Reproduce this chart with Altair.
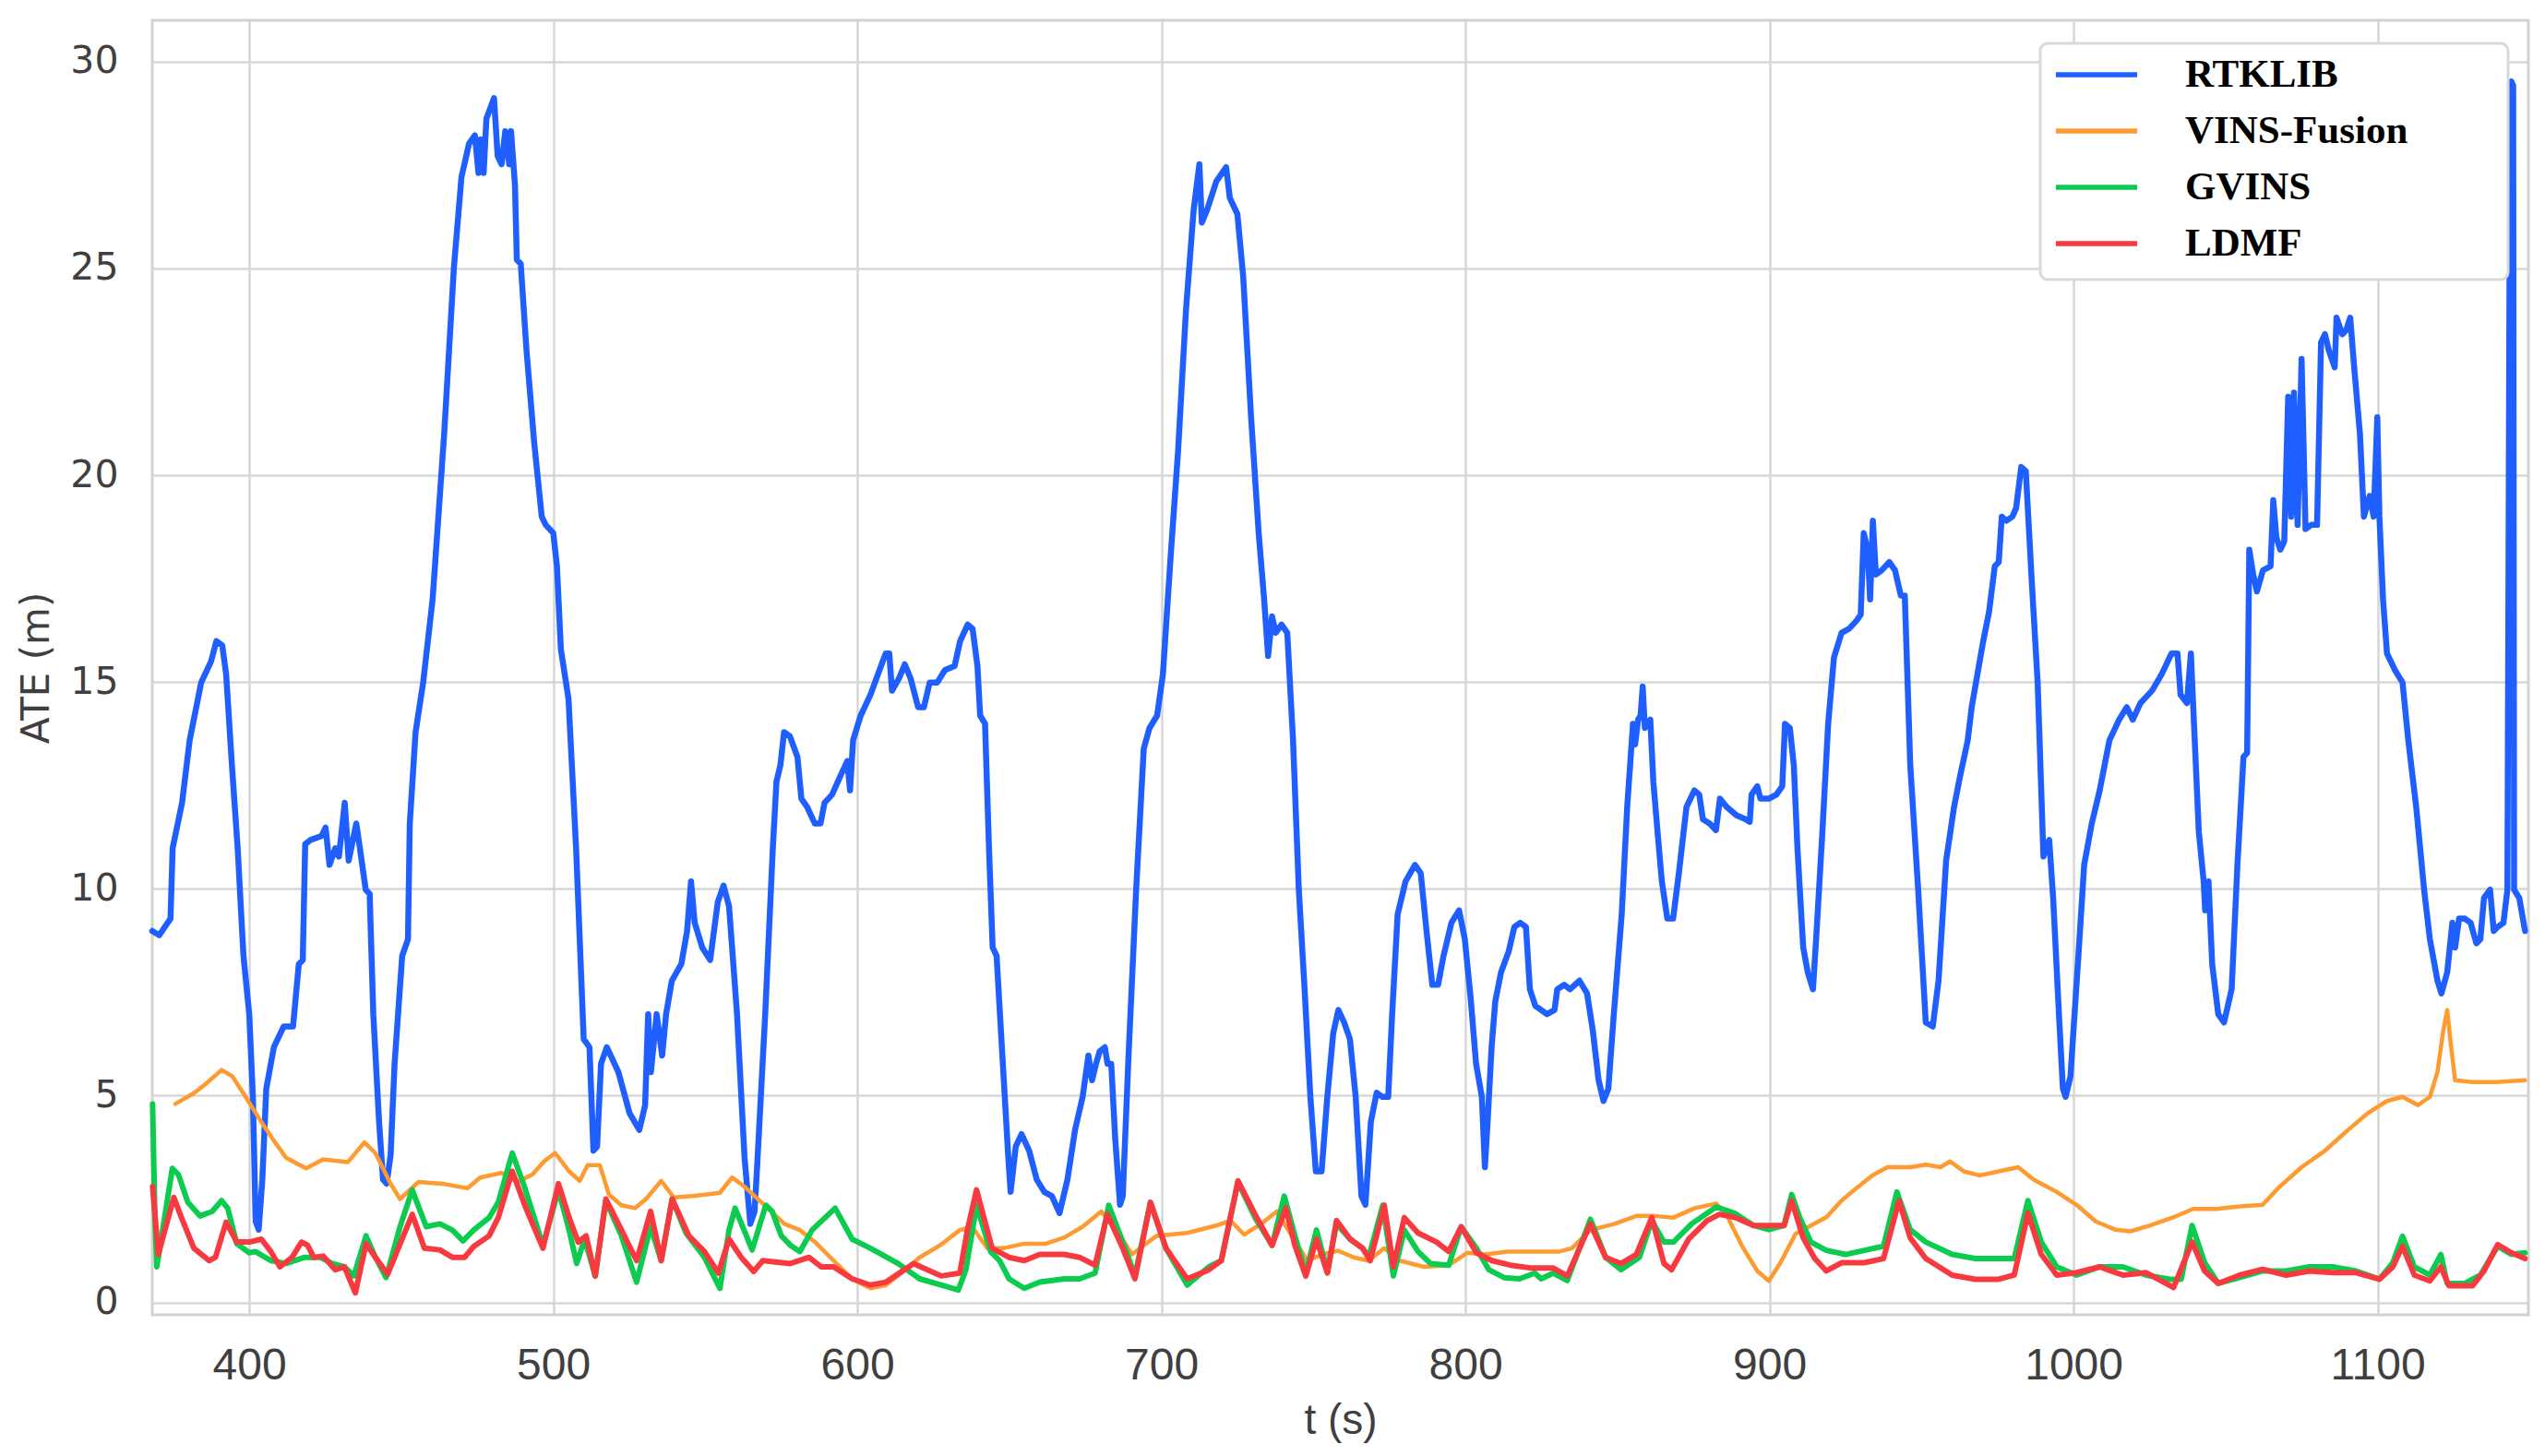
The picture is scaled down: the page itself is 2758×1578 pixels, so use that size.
import altair as alt
import pandas as pd

# ---------------- data ----------------
rtk_t = [368.1, 370.4, 374.1, 374.8, 377.9, 380.4, 384.2, 387.4, 389.2, 391.1, 392.4, 394.3, 396.2, 398.1,
         400.0, 401.2, 402.1, 403.1, 404.3, 405.6, 408.1, 411.3, 414.4, 416.3, 417.6, 418.4, 420.1, 423.8,
         425.1, 426.4, 428.3, 429.5, 431.4, 432.7, 435.2, 436.4, 438.3, 439.6, 440.8, 442.7, 444.0, 445.2,
         446.5, 447.8, 450.3, 452.2, 452.8, 454.7, 457.2, 460.3, 464.1, 467.3, 469.8, 472.3, 474.2, 475.4,
         476.1, 477.1, 478.0, 480.5, 481.7, 483.0, 484.2, 485.5, 486.1, 487.4, 488.0, 489.3, 491.2, 493.7,
         496.2, 497.5, 500.0, 501.2, 502.5, 505.0, 507.5, 510.0, 511.9, 513.2, 514.4, 515.7, 517.6, 521.4,
         525.1, 528.3, 530.2, 531.2, 532.1, 534.0, 535.8, 537.1, 539.0, 542.1, 544.0, 545.3, 546.5, 549.0,
         551.6, 554.1, 556.0, 557.8, 560.4, 562.9, 564.8, 566.2, 567.1, 569.7, 572.2, 573.4, 574.7, 575.9,
         577.8, 580.3, 581.6, 583.5, 586.0, 587.9, 589.2, 591.7, 594.8, 596.7, 597.6, 598.6, 601.1, 604.3,
         606.8, 609.3, 610.5, 611.4, 613.7, 615.6, 617.5, 620.0, 621.9, 623.8, 626.3, 628.8, 632.0, 633.8,
         636.3, 637.9, 639.5, 640.4, 642.0, 643.3, 644.5, 645.8, 647.7, 649.6, 650.4, 652.1, 654.0, 656.5,
         659.0, 661.5, 664.0, 666.5, 669.1, 671.6, 674.1, 676.0, 677.2, 678.5, 679.7, 681.4, 682.3, 683.5,
         684.8, 686.4, 687.3, 689.2, 691.7, 694.2, 696.1, 698.6, 700.5, 703.0, 705.5, 708.1, 710.6, 712.5,
         713.3, 715.0, 718.1, 721.3, 722.5, 725.0, 726.9, 729.5, 732.0, 733.8, 735.1, 736.4, 737.6, 739.5,
         741.4, 743.3, 745.2, 747.1, 749.0, 750.8, 752.7, 754.6, 756.5, 758.2, 760.1, 762.0, 763.9, 765.8,
         767.1, 768.9, 770.8, 772.7, 774.6, 775.9, 777.7, 780.3, 783.4, 785.3, 787.2, 789.1, 791.0, 792.8,
         795.4, 797.9, 799.8, 801.7, 803.5, 805.4, 806.4, 807.3, 808.6, 809.8, 811.7, 814.2, 816.1, 818.0,
         819.9, 821.2, 823.0, 824.9, 826.8, 829.3, 830.2, 832.5, 834.4, 837.5, 840.0, 841.9, 843.8, 845.4,
         847.0, 848.8, 851.4, 853.2, 855.1, 855.8, 856.8, 857.6, 858.3, 859.0, 860.8, 861.8, 863.3, 864.6,
         866.4, 868.3, 870.2, 872.7, 875.3, 876.9, 878.1, 880.3, 882.4, 883.7, 885.9, 889.1, 892.2, 893.5,
         894.1, 896.0, 897.0, 899.8, 902.3, 904.2, 905.1, 906.7, 908.0, 909.2, 911.1, 912.6, 914.3, 915.5,
         917.4, 919.3, 921.2, 923.7, 926.2, 928.7, 930.0, 931.0, 932.3, 933.1, 934.0, 935.0, 936.9, 939.4,
         941.3, 943.2, 944.5, 946.3, 948.9, 951.4, 953.7, 955.6, 958.1, 960.7, 962.6, 965.2, 966.5, 968.4,
         970.3, 972.2, 974.1, 975.4, 976.4, 977.9, 979.9, 981.1, 982.8, 984.3, 986.3, 988.2, 990.1, 992.0,
         993.3, 995.2, 996.5, 997.4, 999.0, 1001.6, 1003.5, 1006.0, 1008.6, 1011.8, 1015.0, 1017.5, 1019.5,
         1022.0, 1025.8, 1029.0, 1032.2, 1034.2, 1035.2, 1037.3, 1038.6, 1039.5, 1041.2, 1042.8, 1043.3,
         1044.4, 1045.6, 1047.6, 1049.5, 1052.0, 1053.9, 1055.9, 1057.1, 1057.8, 1059.1, 1060.3, 1062.3,
         1064.8, 1065.7, 1066.7, 1068.0, 1069.3, 1070.6, 1071.6, 1072.5, 1073.7, 1075.0, 1076.3, 1078.2,
         1080.1, 1081.4, 1082.7, 1084.0, 1085.9, 1086.5, 1088.4, 1089.7, 1091.0, 1092.3, 1094.2, 1095.5,
         1097.4, 1098.7, 1099.9, 1100.6, 1101.8, 1103.1, 1105.7, 1108.2, 1110.1, 1112.7, 1115.3, 1117.2,
         1119.7, 1121.0, 1122.9, 1124.6, 1125.5, 1126.8, 1128.7, 1130.6, 1132.5, 1133.8, 1135.0, 1137.0,
         1138.2, 1139.5, 1141.4, 1142.7, 1143.4, 1144.0, 1144.6, 1144.9, 1146.6, 1148.5]
rtk_v = [8.98, 8.88, 9.28, 10.98, 12.08, 13.59, 14.99, 15.49, 15.99, 15.89, 15.19, 12.99, 10.98, 8.38,
         6.97, 4.97, 1.96, 1.76, 2.97, 5.17, 6.17, 6.67, 6.67, 8.18, 8.28, 11.08, 11.18, 11.28,
         11.48, 10.58, 10.98, 10.78, 12.08, 10.68, 11.58, 10.98, 9.98, 9.88, 6.97, 4.37, 2.97, 2.87,
         3.57, 5.77, 8.38, 8.78, 11.58, 13.79, 14.99, 16.99, 20.99, 25.01, 27.21, 28.02, 28.22, 27.31,
         28.12, 27.31, 28.62, 29.12, 27.72, 27.52, 28.32, 27.52, 28.32, 27.01, 25.21, 25.11, 23.01, 20.80,
         19.00, 18.80, 18.60, 17.80, 15.79, 14.59, 10.98, 6.37, 6.17, 3.67, 3.77, 5.77, 6.17, 5.57,
         4.57, 4.17, 4.77, 6.97, 5.57, 6.97, 5.97, 6.97, 7.78, 8.18, 8.98, 10.18, 9.18, 8.58,
         8.28, 9.68, 10.08, 9.58, 7.00, 3.50, 1.90, 2.20, 3.37, 6.97, 10.98, 12.59, 12.99, 13.79,
         13.69, 13.19, 12.18, 11.98, 11.58, 11.58, 12.08, 12.28, 12.79, 13.09, 12.38, 13.59, 14.19, 14.69,
         15.19, 15.69, 15.69, 14.79, 15.09, 15.43, 15.09, 14.39, 14.39, 14.99, 14.99, 15.29, 15.39, 15.99,
         16.39, 16.29, 15.39, 14.19, 13.99, 10.98, 8.58, 8.38, 5.97, 3.57, 2.67, 3.77, 4.07, 3.67,
         2.97, 2.67, 2.57, 2.16, 2.97, 4.17, 4.97, 5.97, 5.37, 5.77, 6.07, 6.17, 5.77, 5.77,
         3.97, 2.36, 2.57, 5.97, 9.98, 13.39, 13.89, 14.19, 15.19, 17.99, 20.60, 24.01, 26.41, 27.52,
         26.11, 26.41, 27.11, 27.45, 26.71, 26.31, 24.81, 21.40, 18.60, 16.99, 15.63, 16.59, 16.19, 16.39,
         16.19, 13.59, 9.98, 7.57, 4.97, 3.17, 3.17, 5.00, 6.50, 7.07, 6.77, 6.37, 4.97, 2.57,
         2.36, 4.37, 5.07, 4.97, 4.97, 6.97, 9.38, 10.18, 10.58, 10.38, 8.98, 7.68, 7.68, 8.38,
         9.18, 9.48, 8.78, 7.37, 5.77, 4.97, 3.27, 4.37, 6.17, 7.27, 7.98, 8.48, 9.08, 9.18,
         9.08, 7.57, 7.17, 7.07, 6.97, 7.07, 7.57, 7.68, 7.57, 7.78, 7.47, 6.57, 5.37, 4.87,
         5.17, 6.97, 9.38, 11.98, 13.99, 13.49, 14.09, 14.19, 14.89, 13.89, 14.09, 12.59, 11.28, 10.18,
         9.28, 9.28, 10.38, 11.98, 12.38, 12.28, 11.68, 11.58, 11.42, 12.18, 11.98, 11.78, 11.68, 11.62,
         12.28, 12.48, 12.18, 12.18, 12.28, 12.48, 13.99, 13.89, 12.99, 10.98, 8.58, 7.98, 7.57, 8.98,
         11.38, 13.99, 15.59, 16.19, 16.29, 16.49, 16.63, 18.60, 18.20, 17.00, 18.90, 17.60, 17.70, 17.90,
         17.70, 17.09, 17.09, 12.99, 9.98, 6.77, 6.67, 7.78, 10.68, 11.98, 12.69, 13.59, 14.39, 15.19,
         15.99, 16.69, 17.80, 17.90, 19.00, 18.90, 19.00, 19.20, 20.20, 20.10, 17.39, 14.99, 10.78, 11.18,
         9.78, 6.97, 5.17, 4.97, 5.47, 8.38, 10.58, 11.58, 12.38, 13.59, 14.09, 14.39, 14.09,
         14.49, 14.79, 15.19, 15.69, 15.69, 14.69, 14.49, 15.69, 14.19, 11.38, 10.18, 9.48,
         10.18, 8.18, 6.97, 6.77, 7.57, 10.58, 13.19, 13.29, 18.20, 17.60, 17.19, 17.70,
         17.80, 19.40, 18.50, 18.20, 18.40, 21.90, 19.00, 22.00, 18.80, 22.81, 18.70, 18.80,
         18.80, 23.21, 23.41, 23.01, 22.61, 23.81, 23.41, 23.51, 23.81, 22.61, 21.00, 19.00,
         19.50, 19.00, 21.40, 19.00, 16.99, 15.69, 15.29, 14.99, 13.59, 11.98, 9.98, 8.78,
         7.78, 7.47, 7.98, 9.18, 8.58, 9.28, 9.28, 9.18, 8.68, 8.78, 9.78, 9.98,
         8.98, 9.08, 9.18, 9.98, 25.01, 29.52, 29.42, 9.98, 9.78, 8.98]

vins_t = [375.7, 381.8, 385.8, 390.9, 394.4, 399.0, 404.0, 408.1, 412.1, 418.7, 424.3, 432.4, 437.9, 441.5,
          446.5, 449.6, 455.6, 463.7, 471.8, 475.9, 482.9, 488.0, 493.1, 497.1, 500.6, 505.2, 508.7, 511.3,
          515.3, 518.3, 522.4, 526.9, 530.5, 535.5, 539.6, 545.7, 554.8, 558.8, 562.9, 567.9, 576.0, 581.1,
          586.1, 592.2, 598.3, 604.3, 609.4, 614.4, 620.5, 627.6, 633.7, 637.7, 642.8, 647.8, 654.9, 662.0,
          668.1, 674.1, 680.2, 685.3, 690.3, 698.4, 708.5, 718.6, 722.7, 727.2, 732.8, 737.9, 742.9, 748.0,
          753.0, 758.1, 763.2, 768.2, 773.3, 778.3, 786.4, 794.5, 800.6, 806.7, 813.7, 822.8, 830.9, 835.0,
          841.1, 849.1, 856.2, 862.3, 868.4, 875.4, 882.5, 886.0, 891.0, 896.0, 899.8, 903.6, 908.6, 913.6,
          918.7, 923.7, 928.7, 933.8, 938.8, 946.3, 951.4, 956.2, 959.4, 963.9, 969.0, 975.4, 981.8, 986.9,
          994.5, 1001.0, 1007.3, 1013.7, 1018.8, 1025.2, 1032.9, 1039.3, 1046.9, 1054.6, 1062.2, 1067.4,
          1075.0, 1082.7, 1090.3, 1096.7, 1103.1, 1108.2, 1113.3, 1117.2, 1119.7, 1121.6, 1122.9, 1124.2,
          1125.5, 1131.2, 1138.9, 1148.5]
vins_v = [4.80, 5.06, 5.29, 5.62, 5.47, 4.95, 4.36, 3.91, 3.50, 3.24, 3.46, 3.39, 3.87, 3.61,
          2.87, 2.50, 2.91, 2.87, 2.76, 3.02, 3.13, 2.91, 3.09, 3.42, 3.61, 3.17, 2.94, 3.32,
          3.32, 2.61, 2.35, 2.28, 2.50, 2.94, 2.54, 2.57, 2.65, 3.02, 2.80, 2.46, 1.90, 1.75,
          1.46, 1.01, 0.57, 0.34, 0.42, 0.71, 1.09, 1.40, 1.75, 1.83, 1.31, 1.31, 1.42, 1.42,
          1.57, 1.83, 2.20, 1.75, 1.16, 1.61, 1.68, 1.87, 1.98, 1.64, 1.90, 2.20, 1.61, 1.01,
          1.16, 1.25, 1.09, 1.01, 1.31, 1.01, 0.86, 0.90, 1.20, 1.16, 1.23, 1.23, 1.23, 1.31,
          1.75, 1.90, 2.09, 2.09, 2.05, 2.28, 2.39, 2.10, 1.36, 0.76, 0.52, 0.96, 1.66, 1.86,
          2.06, 2.46, 2.77, 3.07, 3.27, 3.27, 3.33, 3.27, 3.41, 3.17, 3.07, 3.17, 3.27, 2.97,
          2.67, 2.36, 1.96, 1.76, 1.72, 1.86, 2.06, 2.26, 2.26, 2.32, 2.36, 2.77,
          3.27, 3.67, 4.17, 4.57, 4.87, 4.97, 4.77, 4.97, 5.57, 6.57, 7.07, 6.17,
          5.37, 5.33, 5.33, 5.37]

gvins_t = [368.2, 369.0, 369.6, 374.7, 376.7, 379.8, 383.8, 387.8, 390.9, 392.9, 395.9, 400.0, 402.0, 407.1,
           412.1, 418.2, 423.3, 427.3, 431.3, 434.4, 438.4, 441.5, 445.0, 449.6, 453.6, 458.2, 462.7, 466.8,
           470.3, 473.8, 478.9, 481.9, 486.5, 490.5, 496.6, 501.7, 505.2, 507.7, 510.3, 513.8, 517.3, 522.4,
           527.4, 532.0, 535.5, 539.1, 543.6, 549.7, 554.8, 557.8, 559.8, 565.4, 569.9, 572.0, 575.0, 578.0,
           581.1, 585.1, 592.7, 598.3, 604.3, 613.4, 620.5, 627.6, 633.2, 635.7, 639.2, 643.8, 646.8, 649.9,
           654.9, 660.0, 668.1, 673.1, 678.2, 682.7, 687.3, 691.3, 696.4, 701.5, 708.5, 715.6, 719.7, 725.2,
           730.8, 736.4, 740.4, 743.9, 747.5, 751.0, 754.6, 757.6, 762.1, 766.2, 768.2, 772.8, 776.3, 779.9,
           784.4, 788.5, 794.5, 798.6, 803.6, 807.7, 812.7, 817.8, 822.8, 824.9, 828.9, 833.5, 841.1, 846.1,
           851.2, 857.2, 861.3, 865.3, 868.4, 874.4, 882.5, 888.5, 894.8, 899.8, 904.8, 907.3, 909.9, 913.6,
           918.7, 925.0, 931.2, 937.5, 941.9, 946.3, 951.4, 960.1, 967.7, 975.4, 980.5, 985.0, 989.4, 994.5,
           1001.0, 1008.6, 1016.3, 1023.9, 1031.6, 1035.4, 1039.0, 1043.1, 1047.6, 1054.6, 1062.2, 1069.9,
           1077.6, 1085.2, 1092.9, 1100.6, 1105.0, 1108.2, 1112.1, 1117.2, 1120.8, 1122.9, 1128.7, 1133.8,
           1139.5, 1144.0, 1148.5]
gvins_v = [4.80, 2.00, 0.86, 3.24, 3.09, 2.42, 2.09, 2.20, 2.46, 2.28, 1.42, 1.20, 1.23, 1.01,
           0.94, 1.09, 1.09, 0.94, 0.86, 0.64, 1.61, 1.09, 0.60, 1.83, 2.72, 1.83, 1.90, 1.75,
           1.49, 1.75, 2.05, 2.42, 3.61, 2.80, 1.38, 2.72, 1.75, 0.94, 1.53, 0.64, 2.46, 1.61,
           0.49, 1.83, 1.01, 2.50, 1.68, 1.09, 0.34, 1.75, 2.28, 1.27, 2.35, 2.20, 1.61, 1.38,
           1.23, 1.75, 2.28, 1.53, 1.31, 0.94, 0.57, 0.42, 0.30, 0.79, 2.35, 1.23, 1.01, 0.57,
           0.34, 0.49, 0.57, 0.57, 0.71, 2.35, 1.46, 0.64, 2.42, 1.31, 0.42, 0.86, 1.01, 2.91,
           2.05, 1.38, 2.57, 1.61, 0.71, 1.75, 0.75, 1.90, 1.53, 1.31, 1.09, 2.35, 0.64, 1.75,
           1.23, 0.94, 0.90, 1.83, 1.31, 0.79, 0.60, 0.57, 0.71, 0.57, 0.71, 0.53, 2.01, 1.09,
           0.79, 1.09, 1.98, 1.46, 1.46, 1.90, 2.31, 2.16, 1.86, 1.76, 1.86, 2.61, 2.06, 1.46,
           1.26, 1.16, 1.26, 1.36, 2.67, 1.76, 1.46, 1.16, 1.06, 1.06, 1.06, 2.46, 1.46, 0.86,
           0.66, 0.86, 0.86, 0.66, 0.56, 0.56, 1.86, 0.96, 0.46, 0.60, 0.76, 0.76,
           0.86, 0.86, 0.76, 0.56, 0.96, 1.60, 0.86, 0.66, 1.16, 0.46, 0.46, 0.66,
           1.36, 1.16, 1.20]

ldmf_t = [368.2, 370.1, 375.2, 377.7, 381.8, 386.8, 388.9, 392.4, 395.9, 400.0, 404.0, 407.1, 410.1, 414.1,
          417.2, 419.2, 421.2, 424.3, 428.3, 431.3, 434.9, 438.4, 441.5, 445.5, 453.6, 457.6, 462.7, 466.8,
          470.8, 473.8, 478.9, 481.9, 486.5, 491.0, 496.6, 501.7, 505.2, 508.2, 510.8, 513.8, 517.3, 521.9,
          527.4, 532.0, 535.5, 539.1, 544.6, 549.7, 554.3, 557.8, 561.8, 565.9, 568.9, 578.0, 584.1, 588.1,
          592.2, 598.3, 604.3, 609.4, 618.5, 627.6, 633.7, 636.2, 639.2, 644.3, 649.9, 654.9, 660.0, 668.1,
          673.1, 678.2, 682.2, 687.3, 691.3, 696.4, 701.5, 708.5, 715.6, 719.7, 725.2, 730.8, 736.4, 740.9,
          743.9, 747.5, 751.0, 754.6, 757.6, 762.1, 766.2, 768.7, 773.3, 776.3, 779.9, 784.4, 790.5, 794.5,
          798.6, 803.6, 808.7, 814.8, 821.8, 828.9, 833.5, 841.1, 846.1, 851.2, 856.2, 861.3, 865.3, 867.8,
          873.4, 879.5, 883.5, 888.5, 894.8, 899.8, 904.8, 907.3, 911.1, 914.9, 918.7, 923.7, 931.2, 937.5,
          942.6, 946.3, 951.4, 960.1, 967.7, 975.4, 980.5, 985.0, 989.4, 994.5, 1001.0, 1008.6, 1016.3,
          1023.9, 1032.9, 1039.0, 1043.1, 1047.6, 1054.6, 1062.2, 1069.9, 1077.6, 1085.2, 1092.9, 1100.6,
          1105.0, 1108.2, 1112.1, 1117.2, 1120.8, 1123.5, 1131.2, 1135.0, 1139.5, 1144.0, 1148.5]
ldmf_v = [2.80, 1.16, 2.54, 2.05, 1.31, 1.01, 1.09, 1.94, 1.46, 1.46, 1.53, 1.23, 0.86, 1.09,
          1.46, 1.38, 1.09, 1.12, 0.79, 0.86, 0.23, 1.42, 1.09, 0.68, 2.13, 1.31, 1.27, 1.09,
          1.09, 1.35, 1.61, 2.05, 3.17, 2.28, 1.31, 2.87, 2.05, 1.46, 1.61, 0.64, 2.50, 1.83,
          1.01, 2.20, 1.01, 2.50, 1.61, 1.23, 0.71, 1.53, 1.09, 0.75, 1.01, 0.94, 1.09, 0.86,
          0.86, 0.57, 0.42, 0.49, 0.94, 0.64, 0.71, 1.75, 2.72, 1.31, 1.09, 1.01, 1.16, 1.16,
          1.09, 0.90, 2.13, 1.31, 0.57, 2.42, 1.31, 0.57, 0.79, 1.01, 2.94, 2.13, 1.38, 2.28,
          1.38, 0.64, 1.53, 0.71, 1.98, 1.53, 1.31, 1.01, 2.35, 0.86, 2.05, 1.68, 1.46, 1.23,
          1.83, 1.20, 1.01, 0.90, 0.83, 0.83, 0.64, 1.90, 1.09, 0.94, 1.16, 2.05, 0.94, 0.79,
          1.53, 1.98, 2.13, 2.06, 1.86, 1.86, 1.86, 2.46, 1.56, 1.06, 0.76, 0.96, 0.96, 1.06,
          2.46, 1.56, 1.06, 0.66, 0.56, 0.56, 0.66, 2.16, 1.16, 0.66, 0.72, 0.86, 0.66,
          0.72, 0.36, 1.46, 0.76, 0.46, 0.66, 0.80, 0.66, 0.76, 0.72, 0.72, 0.56,
          0.86, 1.36, 0.66, 0.52, 0.86, 0.40, 0.40, 0.76, 1.40, 1.20, 1.06]

series_names = ["RTKLIB", "VINS-Fusion", "GVINS", "LDMF"]
series_colors = ["#1f5fff", "#ff9a30", "#0ccc50", "#f83a40"]
series_widths = [6.5, 4.5, 6.0, 6.0]
x_ticks = [400, 500, 600, 700, 800, 900, 1000, 1100]
y_ticks = [0, 5, 10, 15, 20, 25, 30]

# ---------------- chart ----------------
W, H = 2575, 1403
color_scale = alt.Scale(domain=series_names, range=series_colors)
x_scale = alt.Scale(domain=[368.1, 1149.6], nice=False, zero=False)
y_scale = alt.Scale(domain=[-0.3, 31.0], nice=False, zero=False)

x_axis = alt.Axis(values=x_ticks, format="d", title="t (s)", grid=True, ticks=False, domain=False,
                  labelFont="Liberation Sans", labelFontSize=48, labelColor="#3f3f3f", labelPadding=31,
                  titleFont="Liberation Sans", titleFontSize=46, titleFontWeight="normal",
                  titleColor="#3f3f3f", titlePadding=13)
y_axis = alt.Axis(values=y_ticks, title="ATE (m)", grid=True, ticks=False, domain=False,
                  labelFont="DejaVu Sans", labelFontSize=41, labelColor="#3f3f3f", labelPadding=37,
                  titleFont="DejaVu Sans", titleFontSize=42, titleFontWeight="normal",
                  titleColor="#3f3f3f", titlePadding=14)

legend = alt.Legend(title=None, orient="none", legendX=2074, legendY=26, padding=0,
                    symbolType="M-1.47,0H1.47", symbolSize=3600, symbolStrokeWidth=5.5,
                    labelFont="Liberation Serif", labelFontSize=43, labelFontWeight="bold",
                    labelColor="#000000", labelOffset=63, labelLimit=0, rowPadding=6)

all_t = [rtk_t, vins_t, gvins_t, ldmf_t]
all_v = [rtk_v, vins_v, gvins_v, ldmf_v]

layers = []
for name, ts, vs, w in zip(series_names, all_t, all_v, series_widths):
    df = pd.DataFrame({"t": ts, "ATE": vs, "series": [name] * len(ts)})
    layers.append(
        alt.Chart(df).mark_line(strokeWidth=w, strokeJoin="round", strokeCap="round").encode(
            x=alt.X("t:Q", scale=x_scale, axis=x_axis),
            y=alt.Y("ATE:Q", scale=y_scale, axis=y_axis),
            color=alt.Color("series:N", scale=color_scale, sort=series_names, legend=legend),
        )
    )

frame = alt.Chart(pd.DataFrame({"k": [0]})).mark_rect(
    fill="white", stroke="#d9d9d9", strokeWidth=3, cornerRadius=8
).encode(x=alt.value(2046), x2=alt.value(2553), y=alt.value(25), y2=alt.value(281))
layers.append(frame)

chart = alt.layer(*layers).properties(
    width=W, height=H,
    autosize=alt.AutoSizeParams(type="none"),
    padding={"left": 157, "top": 14, "right": 10, "bottom": 150},
    background="white",
).configure_view(
    stroke="#d2d2d2", strokeWidth=3
).configure_axis(
    gridColor="#d6d6d6", gridWidth=2.5
)

chart.save("out.html", embed_options={"renderer": "svg", "actions": False})
